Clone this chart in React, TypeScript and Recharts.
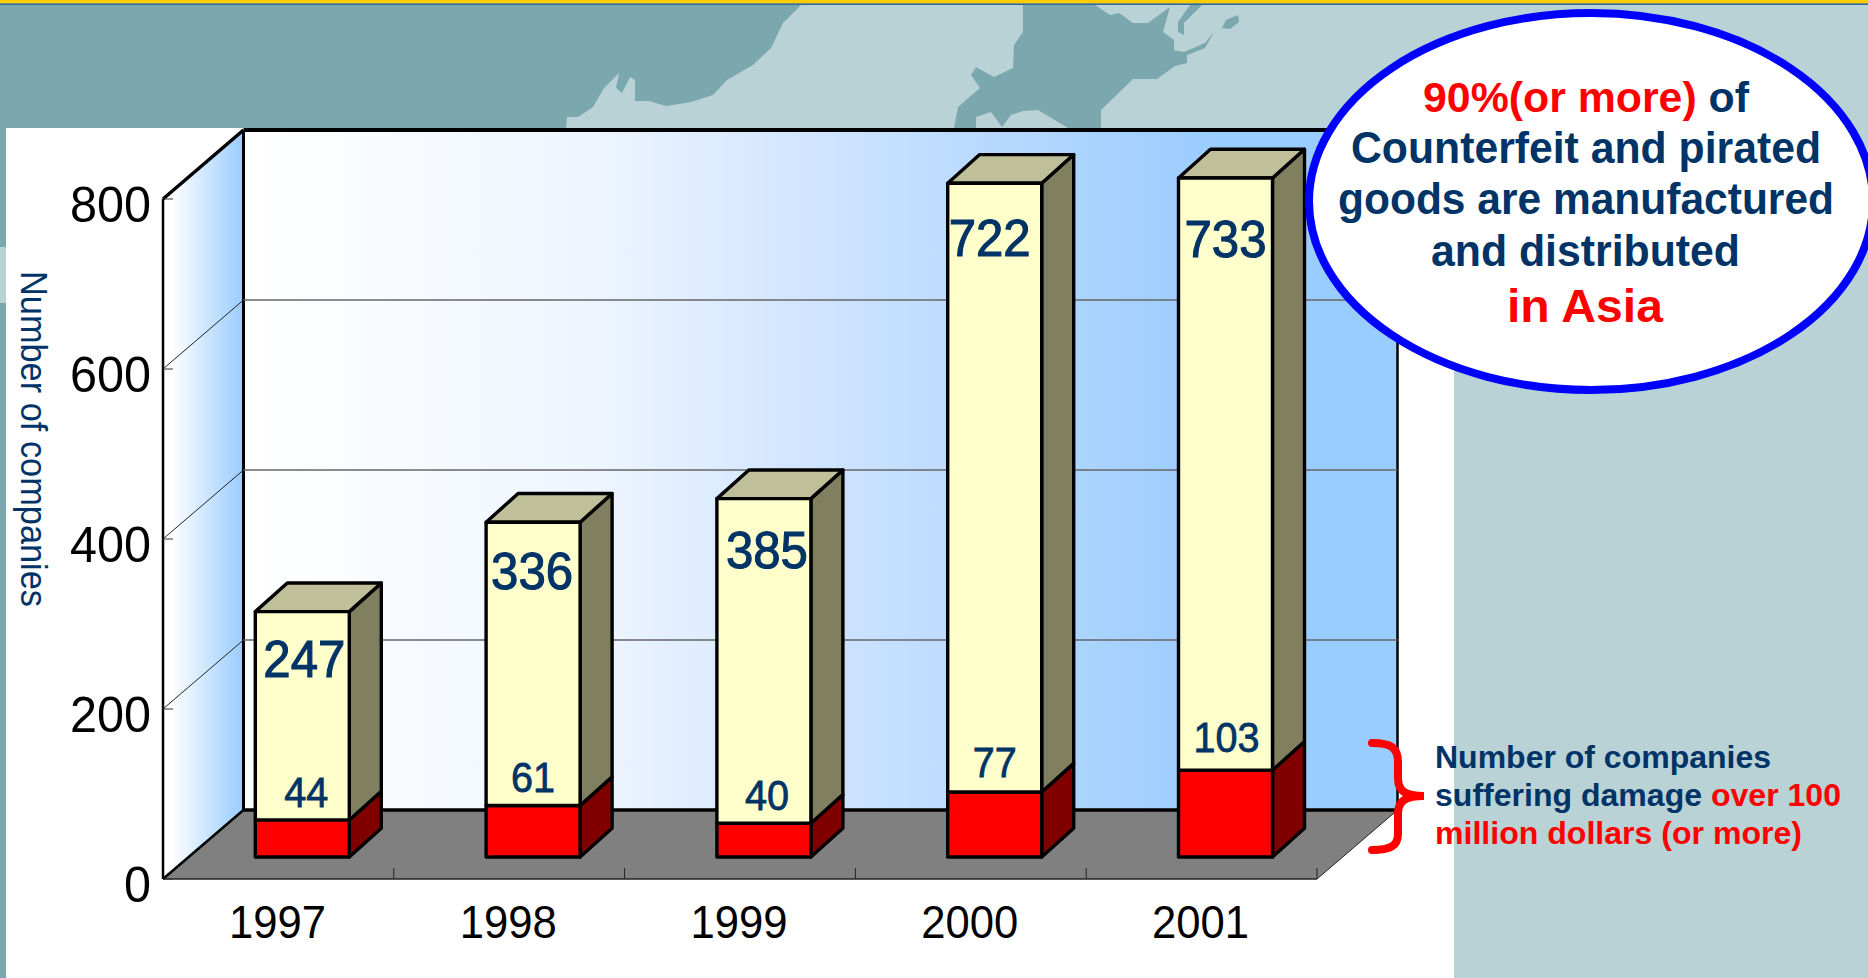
import { BarChart, Bar, XAxis, YAxis, CartesianGrid, LabelList } from 'recharts';

const years = ['1997', '1998', '1999', '2000', '2001'];
const suspected = [247, 336, 385, 722, 733];
const largeDamage = [44, 61, 40, 77, 103];
const yTicks = [0, 200, 400, 600, 800];

const rows = years.map((year, i) => ({ year, suspected: suspected[i], largeDamage: largeDamage[i] }));

// front plane of the fake 3D box
const LEFT = 163;
const RIGHT = 1317;
const TOP = 199;
const BOTTOM = 879;
const DEPTH_X = 80.5;
const DEPTH_Y = 69;
const BAR_SHIFT_X = 24.3;
const BAR_SHIFT_Y = 22;
const BAR_DEPTH_X = 32;
const BAR_DEPTH_Y = 28.7;
const BAR_RATIO = 0.992;
// the stack for 2001 runs past the axis maximum, the original cuts it off here
const BAR_CEILING = 178;

// scale runs to 1000 so the plot clip stays clear of the bar that overflows 800
const Y_MAX = 1000;
const PLOT_TOP = BOTTOM - ((BOTTOM - TOP) / 800) * Y_MAX;

// hand nudges for the value labels, the original sits them by eye
const bigLabelDx = [2, -1, 3, -5, 0];
const bigLabelDrop = [65, 67, 69, 73, 79];
const smallLabelDx = [4, 0, 3, 0, 1];
const smallLabelRise = [13, 14, 13, 15, 18];

const NAVY = '#003366';
const FONT = '"Liberation Sans", Arial, sans-serif';

const lightSea = '801,5 783,23 771,48 753,65 727,80 713,95 691,102 666,106 649,101 635,101 635,80 630,77 622,93 616,88 619,73 604,88 593,107 578,117 567,117 566,128 1868,128 1868,5';
const island = '1023,5 1023,32 1014,45 1013,68 994,77 976,67 971,75 980,88 958,107 954,128 976,128 976,117 991,112 1002,127 1011,115 1023,111 1038,110 1068,128 1101,128 1101,110 1133,79 1157,79 1175,66 1187,63 1187,55 1205,48 1214,32 1205,43 1184,52 1174,50 1174,40 1163,32 1170,7 1148,23 1133,23 1119,13 1110,15 1095,5';
const islet = '1178,22 1190,5 1202,5 1184,23 1184,35 1178,32';
const islet2 = '1222,28 1226,20 1238,15 1239,22 1230,29';

// chart y to the y of the bar, which stands a little back on the floor
function barY(y: number) {
  const base = BOTTOM - BAR_SHIFT_Y;
  return Math.max(base - (BOTTOM - y) * BAR_RATIO, BAR_CEILING);
}

function Bar3D({ x, y, width, height, front, side, top }: any) {
  const l = x + BAR_SHIFT_X;
  const r = l + width;
  const t = barY(y);
  const b = barY(y + height);
  const edge = { stroke: '#000', strokeWidth: 3.4, strokeLinejoin: 'round' as const };
  return (
    <g>
      <polygon points={`${r},${t} ${r + BAR_DEPTH_X},${t - BAR_DEPTH_Y} ${r + BAR_DEPTH_X},${b - BAR_DEPTH_Y} ${r},${b}`} fill={side} {...edge} />
      {top && <polygon points={`${l},${t} ${l + BAR_DEPTH_X},${t - BAR_DEPTH_Y} ${r + BAR_DEPTH_X},${t - BAR_DEPTH_Y} ${r},${t}`} fill={top} {...edge} />}
      <rect x={l} y={t} width={width} height={b - t} fill={front} {...edge} />
    </g>
  );
}

function BigLabel({ x, y, width, value, index }: any) {
  return (
    <text
      x={x + width / 2 + BAR_SHIFT_X + bigLabelDx[index]}
      y={barY(y) + bigLabelDrop[index]}
      textAnchor="middle"
      fontFamily={FONT}
      fontSize={52}
      fill={NAVY}
      stroke={NAVY}
      strokeWidth={1.1}
      textLength={82}
      lengthAdjust="spacingAndGlyphs"
    >
      {value}
    </text>
  );
}

function SmallLabel({ x, y, width, height, value, index }: any) {
  return (
    <text
      x={x + width / 2 + BAR_SHIFT_X + smallLabelDx[index]}
      y={barY(y + height) - smallLabelRise[index]}
      textAnchor="middle"
      fontFamily={FONT}
      fontSize={43}
      fill={NAVY}
      stroke={NAVY}
      strokeWidth={0.8}
      textLength={String(value).length * 22}
      lengthAdjust="spacingAndGlyphs"
    >
      {value}
    </text>
  );
}

function GridLine({ x1, x2, y1 }: any) {
  if (y1 <= TOP + 1 || y1 >= BOTTOM - 1) return null;
  return (
    <g>
      <line x1={x1} y1={y1} x2={x1 + DEPTH_X} y2={y1 - DEPTH_Y} stroke="#222" strokeWidth={1} />
      <line x1={x1 + DEPTH_X} y1={y1 - DEPTH_Y} x2={x2 + DEPTH_X} y2={y1 - DEPTH_Y} stroke="#666" strokeWidth={1.5} />
    </g>
  );
}

function YearTick({ x, payload }: any) {
  const half = (RIGHT - LEFT) / years.length / 2;
  return (
    <g>
      <line x1={x + half} y1={BOTTOM} x2={x + half} y2={BOTTOM - 11} stroke="#222" strokeWidth={1} />
      <text x={x - 1} y={938} textAnchor="middle" fontFamily={FONT} fontSize={46} fill="#000" textLength={97} lengthAdjust="spacingAndGlyphs">
        {payload.value}
      </text>
    </g>
  );
}

function CountTick({ y, payload }: any) {
  return (
    <g>
      <line x1={LEFT} y1={y} x2={LEFT + 10} y2={y} stroke="#333" strokeWidth={1} />
      <text x={151} y={y + 23} textAnchor="end" fontFamily={FONT} fontSize={50} fill="#000" textLength={String(payload.value).length * 27} lengthAdjust="spacingAndGlyphs">
        {payload.value}
      </text>
    </g>
  );
}

function Backdrop() {
  const backX = LEFT + DEPTH_X;
  const backTop = TOP - DEPTH_Y;
  const backBottom = BOTTOM - DEPTH_Y;
  const backRight = RIGHT + DEPTH_X;
  return (
    <svg width={1868} height={978} style={{ position: 'absolute', left: 0, top: 0 }}>
      <defs>
        <linearGradient id="backWall" x1="0" y1="0" x2="1" y2="0">
          <stop offset="0" stopColor="#fff" />
          <stop offset="0.3" stopColor="#EEF5FF" />
          <stop offset="0.5" stopColor="#CFE4FF" />
          <stop offset="0.75" stopColor="#A8D2FF" />
          <stop offset="0.85" stopColor="#99CCFF" />
        </linearGradient>
        <linearGradient id="sideWall" x1="0" y1="0" x2="1" y2="0">
          <stop offset="0.1" stopColor="#fff" />
          <stop offset="1" stopColor="#99CCFF" />
        </linearGradient>
      </defs>
      <rect width={1868} height={978} fill="#7BA8AE" />
      <polygon points={lightSea} fill="#B9D2D6" />
      <polygon points={island} fill="#7BA8AE" />
      <polygon points={islet} fill="#7BA8AE" />
      <polygon points={islet2} fill="#7BA8AE" />
      <rect x={1454} y={128} width={414} height={850} fill="#B9D2D6" />
      <rect x={0} y={247} width={6} height={56} fill="#B9D2D6" />
      <rect x={0} y={0} width={1868} height={3.5} fill="#FFCC00" />
      <rect x={0} y={3.5} width={1868} height={1.5} fill="#336699" />
      <rect x={6} y={128} width={1448} height={850} fill="#fff" />

      <polygon points={`${LEFT},${TOP} ${backX},${backTop} ${backX},${backBottom} ${LEFT},${BOTTOM}`} fill="url(#sideWall)" />
      <rect x={backX} y={backTop} width={RIGHT - LEFT} height={BOTTOM - TOP} fill="url(#backWall)" />
      <polygon points={`${LEFT},${BOTTOM} ${RIGHT},${BOTTOM} ${backRight},${backBottom} ${backX},${backBottom}`} fill="#808080" />

      <line x1={RIGHT} y1={BOTTOM} x2={backRight} y2={backBottom} stroke="#222" strokeWidth={1} />
      <line x1={LEFT} y1={BOTTOM} x2={RIGHT} y2={BOTTOM} stroke="#222" strokeWidth={1.5} />
      <line x1={backRight} y1={backTop} x2={backRight} y2={backBottom} stroke="#000" strokeWidth={2.5} />
      <line x1={backX} y1={backBottom} x2={backRight} y2={backBottom} stroke="#000" strokeWidth={3.5} />
      <line x1={backX} y1={backTop} x2={backRight} y2={backTop} stroke="#000" strokeWidth={4} />
      <line x1={backX} y1={backTop} x2={backX} y2={backBottom} stroke="#000" strokeWidth={3} />
      <line x1={LEFT} y1={TOP} x2={backX} y2={backTop} stroke="#000" strokeWidth={3.5} />
      <line x1={LEFT} y1={TOP} x2={LEFT} y2={BOTTOM} stroke="#000" strokeWidth={2.5} />
      <line x1={LEFT} y1={BOTTOM} x2={backX} y2={backBottom} stroke="#000" strokeWidth={2.5} />
    </svg>
  );
}

function FitLine({ x, y, width, size, children, fill = NAVY }: any) {
  return (
    <text x={x} y={y} fontFamily={FONT} fontWeight="bold" fontSize={size} fill={fill} textLength={width} lengthAdjust="spacingAndGlyphs">
      {children}
    </text>
  );
}

function Notes() {
  return (
    <svg width={1868} height={978} style={{ position: 'absolute', left: 0, top: 0 }}>
      <ellipse cx={1591} cy={201.5} rx={282} ry={188.5} fill="#fff" stroke="#0000FF" strokeWidth={8} />
      <FitLine x={1423} y={112} width={326} size={42}>
        <tspan fill="#FF0000">90%(or more)</tspan> of
      </FitLine>
      <FitLine x={1351} y={163} width={470} size={44}>Counterfeit and pirated</FitLine>
      <FitLine x={1338} y={214} width={496} size={44}>goods are manufactured</FitLine>
      <FitLine x={1431} y={266} width={309} size={44}>and distributed</FitLine>
      <FitLine x={1507} y={322} width={156} size={47} fill="#FF0000">in Asia</FitLine>

      <path
        d="M1372 743 C1390 743 1398 747 1398 762 L1398 778 C1398 791 1405 796 1424 796 C1405 796 1398 801 1398 814 L1398 834 C1398 846 1390 850 1372 850"
        fill="none"
        stroke="#FF0000"
        strokeWidth={8}
        strokeLinecap="round"
      />
      <FitLine x={1435} y={768} width={336} size={31}>Number of companies</FitLine>
      <FitLine x={1435} y={806} width={406} size={31}>
        suffering damage <tspan fill="#FF0000">over 100</tspan>
      </FitLine>
      <FitLine x={1435} y={844} width={367} size={31} fill="#FF0000">million dollars (or more)</FitLine>

      <text transform="translate(21,271) rotate(90)" fontFamily={FONT} fontSize={37} fill={NAVY} textLength={336} lengthAdjust="spacingAndGlyphs">
        Number of companies
      </text>
    </svg>
  );
}

export default function App() {
  return (
    <div style={{ position: 'fixed', left: 0, top: 0, width: 1868, height: 978, overflow: 'hidden' }}>
      <Backdrop />
      <div style={{ position: 'absolute', left: 0, top: 0 }}>
        <BarChart width={1868} height={978} data={rows} margin={{ top: PLOT_TOP, left: LEFT - 100, right: 1868 - RIGHT, bottom: 978 - BOTTOM - 60 }}>
          <CartesianGrid vertical={false} horizontal={GridLine as any} />
          <XAxis dataKey="year" height={60} axisLine={false} tickLine={false} interval={0} tick={YearTick as any} />
          <YAxis width={100} domain={[0, Y_MAX]} ticks={yTicks} axisLine={false} tickLine={false} interval={0} tick={CountTick as any} />
          <Bar dataKey="largeDamage" stackId="total" barSize={94} isAnimationActive={false} shape={(p: any) => <Bar3D {...p} front="#FF0000" side="#800000" />} />
          <Bar dataKey="suspected" stackId="total" barSize={94} isAnimationActive={false} shape={(p: any) => <Bar3D {...p} front="#FFFFCC" side="#808060" top="#BFBF99" />}>
            <LabelList dataKey="suspected" content={BigLabel as any} />
            <LabelList dataKey="largeDamage" content={SmallLabel as any} />
          </Bar>
        </BarChart>
      </div>
      <Notes />
    </div>
  );
}
